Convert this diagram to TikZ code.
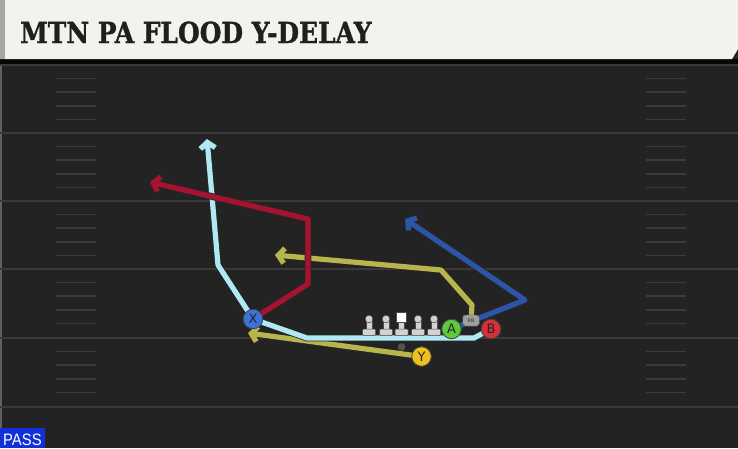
\documentclass[tikz,border=0pt]{standalone}
\usepackage{fontspec}
\usetikzlibrary{arrows.meta}
\newfontfamily\titlefont{DejaVu Serif}[BoldFeatures={FakeBold=1.3}]
\newfontfamily\tagfont{Liberation Sans}
\newfontfamily\keyfont{DejaVu Sans}
\definecolor{field}{HTML}{232323}
\definecolor{yardline}{HTML}{3A3A3A}
\definecolor{banner}{HTML}{F4F2EC}
\definecolor{routecyan}{HTML}{B0E8F4}
\definecolor{routered}{HTML}{A6122F}
\definecolor{routeolive}{HTML}{B7B54C}
\definecolor{routeblue}{HTML}{2C55A8}
\definecolor{btnx}{HTML}{3F72D8}
\definecolor{btna}{HTML}{5DC93B}
\definecolor{btnb}{HTML}{D83039}
\definecolor{btny}{HTML}{EEC11F}
\definecolor{passblue}{HTML}{1230DA}
\definecolor{lineman}{HTML}{D2D2D2}

\begin{document}
\begin{tikzpicture}[x=1pt, y=-1pt,
    route/.style={line width=5.2pt, line join=round, -{Straight Barb[length=6pt,width=15pt]},
      preaction={draw=black!85, line width=6.8pt}},
    player/.style={circle, minimum size=19.5pt, inner sep=0pt, draw=black!75, line width=0.8pt,
      font=\keyfont\fontsize{13}{13}\selectfont, text=black!85},
    rbbox/.style={draw=black!75, fill=gray!75, rounded corners=2.5pt, minimum width=16.5pt, minimum height=11pt,
      inner sep=0pt, font=\keyfont\fontsize{5}{5}\selectfont, text=black!80},
    hash/.style={yardline, line width=1.6pt}]
				\useasboundingbox (0,0) rectangle (738,448);
				\fill[field] (0,0) rectangle (738,448);
				\draw[yardline!80!white, line width=1.2pt] (1,64) -- (1,448);
				% yard lines and hash marks
				\foreach \yl in {65,133,201,269,338,407}
					\draw[yardline, line width=2pt] (0,\yl) -- (738,\yl);
				\foreach \yl in {65,133,201,269,338}
					\foreach \k in {1,...,4} {
						\draw[hash] (56,\yl+13.6*\k) -- (96,\yl+13.6*\k);
						\draw[hash] (646,\yl+13.6*\k) -- (686,\yl+13.6*\k);
					}
				% title banner
				\fill[black!80!field] (0,59) rectangle (738,64);
				\fill[banner] (0,0) -- (738,0) -- (738,49) -- (732,59) -- (0,59) -- cycle;
				\fill[black!35] (0,0) rectangle (5,59);
				\node[anchor=base west, inner sep=0pt, xscale=0.86, text=black!88,
					font=\titlefont\bfseries\fontsize{29}{29}\selectfont] (title) at (20,43) {MTN PA FLOOD Y-DELAY};
				% players
				\node[player, fill=btnx] (X) at (253,319) {X};
				\node[player, fill=btna] (A) at (451.5,329) {A};
				\node[player, fill=btnb] (B) at (491,329) {B};
				\node[player, fill=btny] (Y) at (421.5,356.5) {Y};
				\node[rbbox] (RB) at (471,320.5) {RB};
				% routes
				\draw[route, routeolive] (RB.center) -- (472,305) -- (441,270) -- (275,255);
				\draw[route, routeolive] (Y.center) -- (248,333);
				\draw[route, routeblue] (A.center) -- (525,300) -- (405,219);
				\draw[route, routecyan] (B.center) -- (474,338) -- (307,338) -- (X.center) -- (218,265) -- (207,139);
				\draw[route, routered] (X.center) -- (308,284) -- (308,219) -- (150,182);
				% line
				\foreach \lx in {369,386,418,434} {
					\fill[lineman, draw=black!70, line width=0.5pt] (\lx-3,320) rectangle (\lx+3,330);
					\fill[lineman, draw=black!70, line width=0.5pt] (\lx,319) circle (3.8);
					\fill[lineman, draw=black!70, line width=0.5pt, rounded corners=1pt] (\lx-6.5,329) rectangle (\lx+6.5,335.5);
				}
				\fill[lineman, draw=black!70, line width=0.5pt] (398.5,322) rectangle (404.5,330);
				\fill[white, draw=black!70, line width=0.5pt] (396.5,312.5) rectangle (406.5,322.5);
				\fill[lineman, draw=black!70, line width=0.5pt, rounded corners=1pt] (395,329) rectangle (408,335.5);
				\fill[gray!65!black] (401.5,347) circle (3.8);
				% players again on top of the routes
				\node[player, fill=btnx] at (X) {X};
				\node[player, fill=btna] at (A) {A};
				\node[player, fill=btnb] at (B) {B};
				\node[player, fill=btny] at (Y) {Y};
				\node[rbbox] at (RB) {RB};
				% play type tag
				\fill[passblue] (0,428) rectangle (45,448);
				\node[anchor=base west, inner sep=0pt, xscale=0.9, text=white,
					font=\tagfont\fontsize{16.5}{16.5}\selectfont] (tag) at (3,445.5) {PASS};
		\end{tikzpicture}
\end{document}
